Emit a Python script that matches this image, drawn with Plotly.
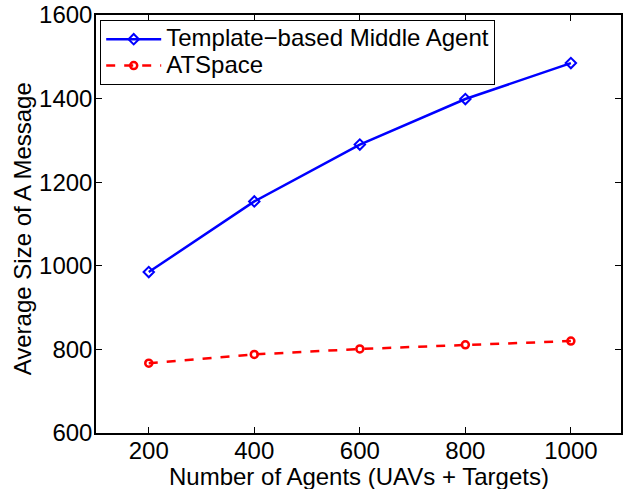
import plotly.graph_objects as go

agents = [200, 400, 600, 800, 1000]
template_sizes = [985, 1154, 1290, 1399, 1485]
atspace_sizes = [767, 788, 801, 811, 820]

FONT = "Liberation Sans, Arial, Helvetica, sans-serif"

fig = go.Figure()
fig.add_trace(go.Scatter(
    x=agents, y=template_sizes, mode="lines+markers",
    name="<span style='font-size:24px'>Template\u2212based Middle Agent</span>",
    line=dict(color="#0000ff", width=2.5),
    marker=dict(symbol="diamond-open", size=8, color="#0000ff", line=dict(width=2)),
))
fig.add_trace(go.Scatter(
    x=agents, y=atspace_sizes, mode="lines+markers",
    name="<span style='font-size:24px'>ATSpace</span>",
    line=dict(color="#ff0000", width=2.5, dash="dash"),
    marker=dict(symbol="circle-open", size=7, color="#ff0000", line=dict(width=2.5)),
))

axis_common = dict(
    showgrid=False, zeroline=False, showline=True, linecolor="black", linewidth=1.5,
    mirror="ticks", ticks="inside", ticklen=6, tickwidth=1, tickcolor="black",
    tickfont=dict(family=FONT, size=24, color="black"),
)

fig.update_layout(
    width=623, height=489,
    margin=dict(l=96, r=0, t=15, b=56),
    paper_bgcolor="white", plot_bgcolor="white",
    font=dict(family=FONT, size=24, color="black"),
    xaxis=dict(range=[100, 1095], tickvals=agents, ticklabelstandoff=-5,
               **axis_common),
    yaxis=dict(range=[600, 1600], tickvals=[600, 800, 1000, 1200, 1400, 1600],
               ticklabelstandoff=-3,
               **axis_common),
    legend=dict(x=0.008, y=0.988, xanchor="left", yanchor="top",
                bgcolor="white", bordercolor="black", borderwidth=1,
                font=dict(family=FONT, size=18), tracegroupgap=0,
                itemwidth=55),
    showlegend=True,
    annotations=[
        dict(text="Number of Agents (UAVs + Targets)", xref="paper", yref="paper",
             x=0.5, y=0, xanchor="center", yanchor="middle", yshift=-43,
             showarrow=False, font=dict(family=FONT, size=24, color="black")),
        dict(text="Average Size of A Message", xref="paper", yref="paper",
             x=-0.1404, y=0.488, xanchor="center", yanchor="middle", textangle=-90,
             showarrow=False, font=dict(family=FONT, size=24, color="black")),
    ],
)

fig.write_html("out.html")
